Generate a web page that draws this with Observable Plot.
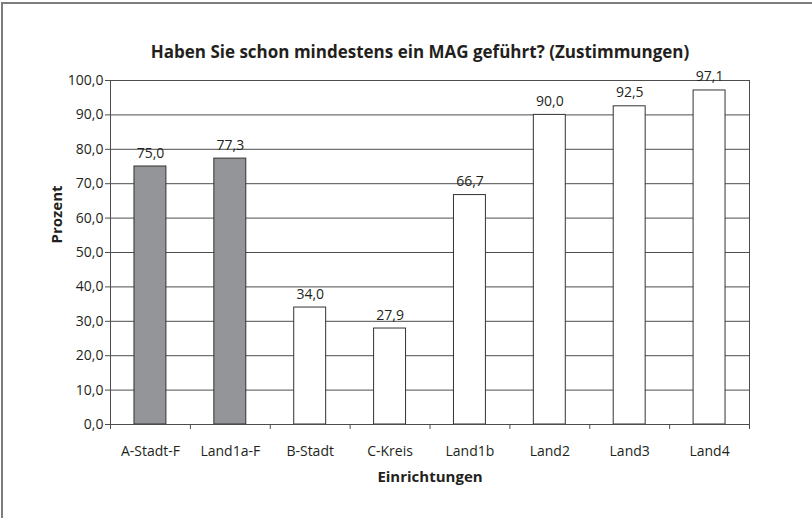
<!DOCTYPE html>
<html>
<head>
<meta charset="utf-8">
<script src="https://cdn.jsdelivr.net/npm/d3@7"></script>
<script src="https://cdn.jsdelivr.net/npm/@observablehq/plot@0.6"></script>
<style>
  html, body { margin: 0; padding: 0; background: #fff; overflow: hidden; }
  #wrap { position: relative; width: 812px; height: 518px; }
  #frame { position: absolute; left: 1px; top: 2px; width: 900px; height: 600px; border: 2px solid #7d7d7d; pointer-events: none; }
  svg { font-family: "Open Sans", sans-serif; }
</style>
</head>
<body>
<div id="wrap"><div id="frame"></div></div>
<script>
const title = "Haben Sie schon mindestens ein MAG geführt? (Zustimmungen)";
const xLabel = "Einrichtungen";
const yLabel = "Prozent";
const categories = ["A-Stadt-F", "Land1a-F", "B-Stadt", "C-Kreis", "Land1b", "Land2", "Land3", "Land4"];
const values = [75.0, 77.3, 34.0, 27.9, 66.7, 90.0, 92.5, 97.1];
const highlighted = [true, true, false, false, false, false, false, false];
const yTicks = [0, 10, 20, 30, 40, 50, 60, 70, 80, 90, 100];

const data = categories.map((c, i) => ({cat: c, i, value: values[i], hl: highlighted[i]}));
const fmt = v => v.toFixed(1).replace(".", ",");
const ink = "#231f20";
const line = "#4d4d4d";

const chart = Plot.plot({
  width: 812,
  height: 518,
  marginLeft: 110,
  marginRight: 63,
  marginTop: 80,
  marginBottom: 94,
  style: {fontSize: "14px", fontFamily: "'Open Sans', sans-serif", color: ink, background: "transparent"},
  x: {type: "linear", domain: [0, categories.length]},
  y: {domain: [0, 100]},
  marks: [
    Plot.gridY(yTicks, {stroke: line, strokeOpacity: 1, strokeWidth: 1}),
    Plot.rectY(data, {x1: d => d.i + 0.3, x2: d => d.i + 0.7, y1: 0, y2: "value",
      fill: d => d.hl ? "#939598" : "#ffffff", stroke: "#333", strokeWidth: 1}),
    Plot.ruleX([0, categories.length], {y1: 0, y2: 100, stroke: line, strokeWidth: 1}),
    Plot.ruleY([0], {stroke: line, strokeWidth: 1}),
    Plot.axisY({ticks: yTicks, tickFormat: fmt, tickSize: 5, tickPadding: 2, label: null, stroke: line, fontSize: 14}),
    Plot.axisX({ticks: d3.range(0, categories.length + 1), tickFormat: () => "", tickSize: 5, label: null, stroke: line}),
    Plot.axisX({ticks: categories.map((c, i) => i + 0.5), tickFormat: t => categories[Math.floor(t)], tickSize: 0, tickPadding: 22, label: null, fontSize: 14}),
    Plot.text(data, {x: d => d.i + 0.5, y: "value", text: d => fmt(d.value), lineAnchor: "bottom", dy: -9, fontSize: 14, fill: ink}),
    Plot.text([title], {frameAnchor: "top", dx: -10, dy: -35, fontWeight: "bold", fontSize: 17, fill: ink}),
    Plot.text([xLabel], {frameAnchor: "bottom", dy: 57, fontWeight: "bold", fontSize: 15, fill: ink}),
    Plot.text([yLabel], {frameAnchor: "left", dx: -53, dy: -9, rotate: -90, fontWeight: "bold", fontSize: 15, fill: ink})
  ]
});
chart.style.position = "absolute";
chart.style.left = "0";
chart.style.top = "0";
document.getElementById("wrap").appendChild(chart);
</script>
</body>
</html>
